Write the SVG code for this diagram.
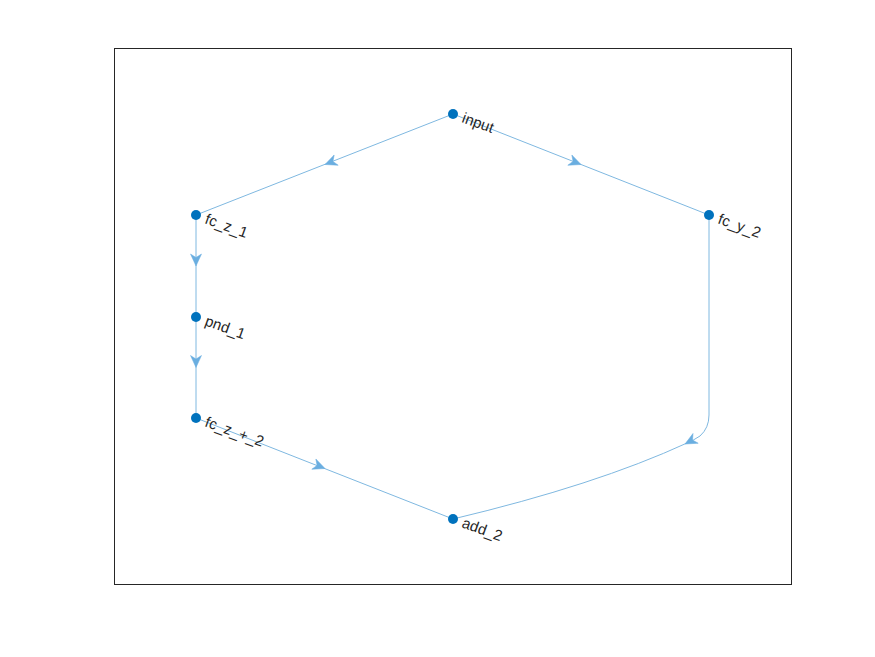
<svg xmlns="http://www.w3.org/2000/svg" width="875" height="657" viewBox="0 0 875 657">
<style>
.edge{fill:none;stroke:#7fb8e0;stroke-width:1}
.arr{fill:#6aaee0;stroke:#6aaee0;stroke-width:0.5}
.node{fill:#0072bd}
.lbl{font-family:"Liberation Sans",Arial,sans-serif;font-size:15px;fill:#262626}
</style>
<defs>
<path id="ah" d="M0,0 L-12,-5.5 L-8.5,0 L-12,5.5 Z"/>
</defs>
<rect x="0" y="0" width="875" height="657" fill="#ffffff"/>
<rect x="114.5" y="48.5" width="677" height="536" fill="#ffffff" stroke="#262626" stroke-width="1"/>
<g id="connectors">
<path class="edge" d="M453,114 L196,215"/>
<path class="edge" d="M453,114 L709,215"/>
<path class="edge" d="M196,215 L196,317"/>
<path class="edge" d="M196,317 L196,418"/>
<path class="edge" d="M196,418 L453,519"/>
<path class="edge" d="M709,215 L709,415 Q709,428 700,436 Q694,440 687,443 Q596,485 453,519"/>
<use href="#ah" class="arr" transform="translate(325,164.5) rotate(158.5)"/>
<use href="#ah" class="arr" transform="translate(581,164.5) rotate(21.5)"/>
<use href="#ah" class="arr" transform="translate(196,266) rotate(90)"/>
<use href="#ah" class="arr" transform="translate(196,367.5) rotate(90)"/>
<use href="#ah" class="arr" transform="translate(325,468.5) rotate(21.5)"/>
<use href="#ah" class="arr" transform="translate(685,444) rotate(152)"/>
</g>
<g id="n-input"><circle class="node" cx="453" cy="114" r="5"/><text class="lbl" x="461" y="122" transform="rotate(20 461 122)">input</text></g>
<g id="n-fc_z_1"><circle class="node" cx="196" cy="215" r="5"/><text class="lbl" x="204" y="223" transform="rotate(20 204 223)">fc_z_1</text></g>
<g id="n-pnd_1"><circle class="node" cx="196" cy="317" r="5"/><text class="lbl" x="204" y="325" transform="rotate(20 204 325)">pnd_1</text></g>
<g id="n-fc_z_plus_2"><circle class="node" cx="196" cy="418" r="5"/><text class="lbl" x="204" y="426" transform="rotate(20 204 426)">fc_z_+_2</text></g>
<g id="n-add_2"><circle class="node" cx="453" cy="519" r="5"/><text class="lbl" x="461" y="527" transform="rotate(20 461 527)">add_2</text></g>
<g id="n-fc_y_2"><circle class="node" cx="709" cy="215" r="5"/><text class="lbl" x="717" y="223" transform="rotate(20 717 223)">fc_y_2</text></g>
</svg>
